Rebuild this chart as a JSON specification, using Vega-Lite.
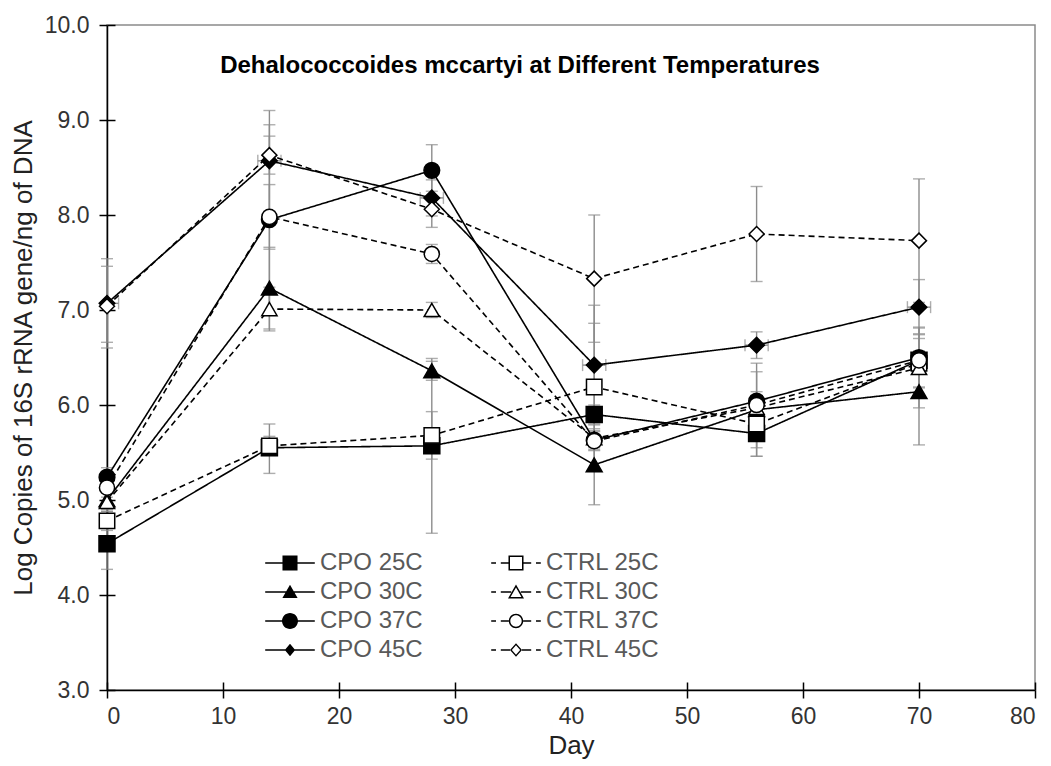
{
  "$schema": "https://vega.github.io/schema/vega-lite/v6.json",
  "width": 928,
  "height": 665,
  "autosize": {"type": "none"},
  "padding": {"left": 107, "top": 25, "right": 16, "bottom": 76},
  "background": "white",
  "config": {
    "view": {"stroke": "#8a8a8a", "strokeWidth": 1.5},
    "font": "Liberation Sans",
    "axis": {
      "labelFont": "Liberation Sans", "labelFontSize": 23, "labelColor": "#333333",
      "titleFont": "Liberation Sans", "titleFontSize": 26, "titleFontWeight": "normal", "titleColor": "#222222",
      "domainColor": "black", "domainWidth": 1.5, "tickColor": "black", "tickWidth": 1.5, "grid": false
    }
  },
  "title": {
    "text": "Dehalococcoides mccartyi at Different Temperatures",
    "font": "Liberation Sans", "fontSize": 24, "fontWeight": "bold", "color": "black",
    "anchor": "middle", "dx": -51, "dy": 68
  },
  "data": {"values": [
    {"series": "CPO 25C", "group": "CPO", "day": 0, "value": 4.54, "lo": 4.27, "hi": 4.81},
    {"series": "CPO 25C", "group": "CPO", "day": 14, "value": 5.55, "lo": 5.28, "hi": 5.80},
    {"series": "CPO 25C", "group": "CPO", "day": 28, "value": 5.57, "lo": 4.65, "hi": 6.49},
    {"series": "CPO 25C", "group": "CPO", "day": 42, "value": 5.90, "lo": 5.80, "hi": 6.00},
    {"series": "CPO 25C", "group": "CPO", "day": 56, "value": 5.70, "lo": 5.46, "hi": 5.94},
    {"series": "CPO 25C", "group": "CPO", "day": 70, "value": 6.47, "lo": 6.37, "hi": 6.57},
    {"series": "CPO 30C", "group": "CPO", "day": 0, "value": 5.00, "lo": 4.90, "hi": 5.10},
    {"series": "CPO 30C", "group": "CPO", "day": 14, "value": 7.23, "lo": 6.80, "hi": 7.66},
    {"series": "CPO 30C", "group": "CPO", "day": 28, "value": 6.36, "lo": 6.26, "hi": 6.46},
    {"series": "CPO 30C", "group": "CPO", "day": 42, "value": 5.37, "lo": 4.95, "hi": 5.79},
    {"series": "CPO 30C", "group": "CPO", "day": 56, "value": 5.95, "lo": 5.55, "hi": 6.35},
    {"series": "CPO 30C", "group": "CPO", "day": 70, "value": 6.14, "lo": 5.58, "hi": 6.70},
    {"series": "CPO 37C", "group": "CPO", "day": 0, "value": 5.24, "lo": 5.14, "hi": 5.34},
    {"series": "CPO 37C", "group": "CPO", "day": 14, "value": 7.95, "lo": 6.95, "hi": 8.95},
    {"series": "CPO 37C", "group": "CPO", "day": 28, "value": 8.47, "lo": 8.20, "hi": 8.74},
    {"series": "CPO 37C", "group": "CPO", "day": 42, "value": 5.63, "lo": 5.53, "hi": 5.73},
    {"series": "CPO 37C", "group": "CPO", "day": 56, "value": 6.04, "lo": 5.64, "hi": 6.44},
    {"series": "CPO 37C", "group": "CPO", "day": 70, "value": 6.50, "lo": 6.18, "hi": 6.82},
    {"series": "CPO 45C", "group": "CPO", "day": 0, "value": 7.07, "lo": 6.60, "hi": 7.54, "xlo": -1, "xhi": 1},
    {"series": "CPO 45C", "group": "CPO", "day": 14, "value": 8.57, "lo": 8.04, "hi": 9.10, "xlo": 13, "xhi": 15},
    {"series": "CPO 45C", "group": "CPO", "day": 28, "value": 8.18, "lo": 7.99, "hi": 8.37, "xlo": 27, "xhi": 29},
    {"series": "CPO 45C", "group": "CPO", "day": 42, "value": 6.42, "lo": 5.98, "hi": 6.86, "xlo": 41, "xhi": 43},
    {"series": "CPO 45C", "group": "CPO", "day": 56, "value": 6.63, "lo": 6.49, "hi": 6.77, "xlo": 55, "xhi": 57},
    {"series": "CPO 45C", "group": "CPO", "day": 70, "value": 7.03, "lo": 6.74, "hi": 7.32, "xlo": 69, "xhi": 71},
    {"series": "CTRL 25C", "group": "CTRL", "day": 0, "value": 4.78, "lo": 4.68, "hi": 4.88},
    {"series": "CTRL 25C", "group": "CTRL", "day": 14, "value": 5.57, "lo": 5.47, "hi": 5.67},
    {"series": "CTRL 25C", "group": "CTRL", "day": 28, "value": 5.68, "lo": 5.43, "hi": 5.93},
    {"series": "CTRL 25C", "group": "CTRL", "day": 42, "value": 6.19, "lo": 5.33, "hi": 7.05},
    {"series": "CTRL 25C", "group": "CTRL", "day": 56, "value": 5.80, "lo": 5.46, "hi": 6.14},
    {"series": "CTRL 25C", "group": "CTRL", "day": 70, "value": 6.44, "lo": 6.34, "hi": 6.54},
    {"series": "CTRL 30C", "group": "CTRL", "day": 0, "value": 4.98, "lo": 4.88, "hi": 5.08},
    {"series": "CTRL 30C", "group": "CTRL", "day": 14, "value": 7.01, "lo": 6.78, "hi": 7.24},
    {"series": "CTRL 30C", "group": "CTRL", "day": 28, "value": 7.00, "lo": 6.92, "hi": 7.08},
    {"series": "CTRL 30C", "group": "CTRL", "day": 42, "value": 5.65, "lo": 5.55, "hi": 5.75},
    {"series": "CTRL 30C", "group": "CTRL", "day": 56, "value": 5.97, "lo": 5.87, "hi": 6.07},
    {"series": "CTRL 30C", "group": "CTRL", "day": 70, "value": 6.39, "lo": 5.97, "hi": 6.81},
    {"series": "CTRL 37C", "group": "CTRL", "day": 0, "value": 5.13, "lo": 5.03, "hi": 5.23},
    {"series": "CTRL 37C", "group": "CTRL", "day": 14, "value": 7.98, "lo": 7.64, "hi": 8.32},
    {"series": "CTRL 37C", "group": "CTRL", "day": 28, "value": 7.59, "lo": 7.49, "hi": 7.69},
    {"series": "CTRL 37C", "group": "CTRL", "day": 42, "value": 5.62, "lo": 5.52, "hi": 5.72},
    {"series": "CTRL 37C", "group": "CTRL", "day": 56, "value": 6.00, "lo": 5.90, "hi": 6.10},
    {"series": "CTRL 37C", "group": "CTRL", "day": 70, "value": 6.47, "lo": 6.19, "hi": 6.75},
    {"series": "CTRL 45C", "group": "CTRL", "day": 0, "value": 7.04, "lo": 6.66, "hi": 7.46},
    {"series": "CTRL 45C", "group": "CTRL", "day": 14, "value": 8.63, "lo": 8.43, "hi": 8.83},
    {"series": "CTRL 45C", "group": "CTRL", "day": 28, "value": 8.06, "lo": 7.87, "hi": 8.25},
    {"series": "CTRL 45C", "group": "CTRL", "day": 42, "value": 7.33, "lo": 6.66, "hi": 8.00},
    {"series": "CTRL 45C", "group": "CTRL", "day": 56, "value": 7.80, "lo": 7.30, "hi": 8.30},
    {"series": "CTRL 45C", "group": "CTRL", "day": 70, "value": 7.73, "lo": 7.08, "hi": 8.38}
  ]},
  "resolve": {
    "axis": {"x": "independent", "y": "independent"},
    "scale": {"shape": "independent", "fill": "independent", "size": "independent"}
  },
  "layer": [
    {
      "mark": {"type": "errorbar", "ticks": {"size": 12, "color": "#8c8c8c", "thickness": 1.4}, "rule": {"color": "#8c8c8c", "strokeWidth": 1.4}},
      "encoding": {
        "x": {"field": "day", "type": "quantitative", "scale": {"domain": [0, 80], "nice": false},
              "axis": {"values": [0, 10, 20, 30, 40, 50, 60, 70, 80], "title": "Day", "tickSize": 8, "labelPadding": 7, "titlePadding": 4}},
        "y": {"field": "lo", "type": "quantitative", "scale": {"domain": [3, 10], "nice": false, "zero": false},
              "axis": {"values": [3, 4, 5, 6, 7, 8, 9, 10], "format": ".1f", "title": "Log Copies of 16S rRNA gene/ng of DNA", "tickSize": 8, "labelPadding": 10, "titlePadding": 8}},
        "y2": {"field": "hi"}
      }
    },
    {
      "transform": [{"filter": "datum.series === 'CPO 45C'"}],
      "mark": {"type": "errorbar", "clip": true, "ticks": {"size": 12, "color": "#8c8c8c", "thickness": 1.4}, "rule": {"color": "#8c8c8c", "strokeWidth": 1.4}},
      "encoding": {
        "x": {"field": "xlo", "type": "quantitative", "axis": null},
        "x2": {"field": "xhi"},
        "y": {"field": "value", "type": "quantitative", "axis": null}
      }
    },
    {
      "mark": {"type": "line", "color": "black", "strokeWidth": 1.6},
      "encoding": {
        "x": {"field": "day", "type": "quantitative", "axis": null},
        "y": {"field": "value", "type": "quantitative", "axis": null},
        "detail": {"field": "series", "type": "nominal"},
        "strokeDash": {"field": "group", "type": "nominal", "scale": {"domain": ["CPO", "CTRL"], "range": [[1, 0], [6, 4]]}, "legend": null}
      }
    },
    {
      "mark": {"type": "point", "stroke": "black", "strokeWidth": 1.5, "opacity": 1},
      "encoding": {
        "x": {"field": "day", "type": "quantitative",
              "axis": {"values": [0, 10, 20, 30, 40, 50, 60, 70, 80], "tickSize": -8, "labels": false, "domain": false, "title": null, "orient": "bottom"}},
        "y": {"field": "value", "type": "quantitative",
              "axis": {"values": [3, 4, 5, 6, 7, 8, 9, 10], "tickSize": -8, "labels": false, "domain": false, "title": null, "orient": "left"}},
        "shape": {"field": "series", "type": "nominal", "legend": null,
                  "scale": {"domain": ["CPO 25C", "CPO 30C", "CPO 37C", "CPO 45C", "CTRL 25C", "CTRL 30C", "CTRL 37C", "CTRL 45C"],
                            "range": ["square", "triangle-up", "circle", "diamond", "square", "triangle-up", "circle", "diamond"]}},
        "fill": {"field": "series", "type": "nominal", "legend": null,
                 "scale": {"domain": ["CPO 25C", "CPO 30C", "CPO 37C", "CPO 45C", "CTRL 25C", "CTRL 30C", "CTRL 37C", "CTRL 45C"],
                           "range": ["black", "black", "black", "black", "white", "white", "white", "white"]}},
        "size": {"field": "series", "type": "nominal", "legend": null,
                 "scale": {"domain": ["CPO 25C", "CPO 30C", "CPO 37C", "CPO 45C", "CTRL 25C", "CTRL 30C", "CTRL 37C", "CTRL 45C"],
                           "range": [256, 225, 256, 144, 196, 196, 196, 169]}}
      }
    },
    {
      "transform": [{"filter": "false"}],
      "mark": {"type": "point", "opacity": 1, "stroke": "transparent", "strokeWidth": 0},
      "encoding": {
        "x": {"field": "day", "type": "quantitative", "axis": null},
        "y": {"field": "value", "type": "quantitative", "axis": null},
        "shape": {"field": "series", "type": "nominal",
                  "scale": {"domain": ["CPO 25C", "CPO 30C", "CPO 37C", "CPO 45C", "CTRL 25C", "CTRL 30C", "CTRL 37C", "CTRL 45C"],
                            "range": [
                              "M-3.1 -0.1H3.1V0.1H-3.1Z M-0.94 -0.94H0.94V0.94H-0.94Z",
                              "M-3.1 -0.1H3.1V0.1H-3.1Z M0 -0.9L0.95 0.75H-0.95Z",
                              "M-3.1 -0.1H3.1V0.1H-3.1Z M-1 0A1 1 0 1 1 1 0A1 1 0 1 1 -1 0Z",
                              "M-3.1 -0.1H3.1V0.1H-3.1Z M0 -0.78L0.65 0L0 0.78L-0.65 0Z",
                              "M-3.1 -0.1H-2.5V0.1H-3.1Z M-1.9 -0.1H-0.94V0.1H-1.9Z M0.94 -0.1H1.9V0.1H0.94Z M2.5 -0.1H3.1V0.1H2.5Z M-0.94 -0.94H0.94V0.94H-0.94Z M-0.75 -0.75V0.75H0.75V-0.75Z",
                              "M-3.1 -0.1H-2.5V0.1H-3.1Z M-1.9 -0.1H-0.6V0.1H-1.9Z M0.6 -0.1H1.9V0.1H0.6Z M2.5 -0.1H3.1V0.1H2.5Z M0 -0.95L1 0.8H-1Z M0 -0.56L-0.68 0.61H0.68Z",
                              "M-3.1 -0.1H-2.5V0.1H-3.1Z M-1.9 -0.1H-0.9V0.1H-1.9Z M0.9 -0.1H1.9V0.1H0.9Z M2.5 -0.1H3.1V0.1H2.5Z M-0.9 0A0.9 0.9 0 1 1 0.9 0A0.9 0.9 0 1 1 -0.9 0Z M-0.71 0A0.71 0.71 0 1 0 0.71 0A0.71 0.71 0 1 0 -0.71 0Z",
                              "M-3.1 -0.1H-2.5V0.1H-3.1Z M-1.9 -0.1H-0.75V0.1H-1.9Z M0.75 -0.1H1.9V0.1H0.75Z M2.5 -0.1H3.1V0.1H2.5Z M0 -0.85L0.75 0L0 0.85L-0.75 0Z M0 -0.6L-0.52 0L0 0.6L0.52 0Z"
                            ]},
                  "legend": {
                    "title": null, "orient": "none", "legendX": 171, "legendY": 526, "columns": 2,
                    "columnPadding": 68, "rowPadding": 5, "padding": 0, "symbolSize": 256, "labelOffset": 18,
                    "labelFont": "Liberation Sans", "labelFontSize": 24, "labelColor": "#595959",
                    "symbolStrokeWidth": 0
                  }},
        "fill": {"field": "series", "type": "nominal",
                 "scale": {"domain": ["CPO 25C", "CPO 30C", "CPO 37C", "CPO 45C", "CTRL 25C", "CTRL 30C", "CTRL 37C", "CTRL 45C"],
                           "range": ["black", "black", "black", "black", "black", "black", "black", "black"]},
                 "legend": {
                    "title": null, "orient": "none", "legendX": 171, "legendY": 526, "columns": 2,
                    "columnPadding": 68, "rowPadding": 5, "padding": 0, "symbolSize": 256, "labelOffset": 18,
                    "labelFont": "Liberation Sans", "labelFontSize": 24, "labelColor": "#595959",
                    "symbolStrokeWidth": 0
                 }}
      }
    }
  ]
}
